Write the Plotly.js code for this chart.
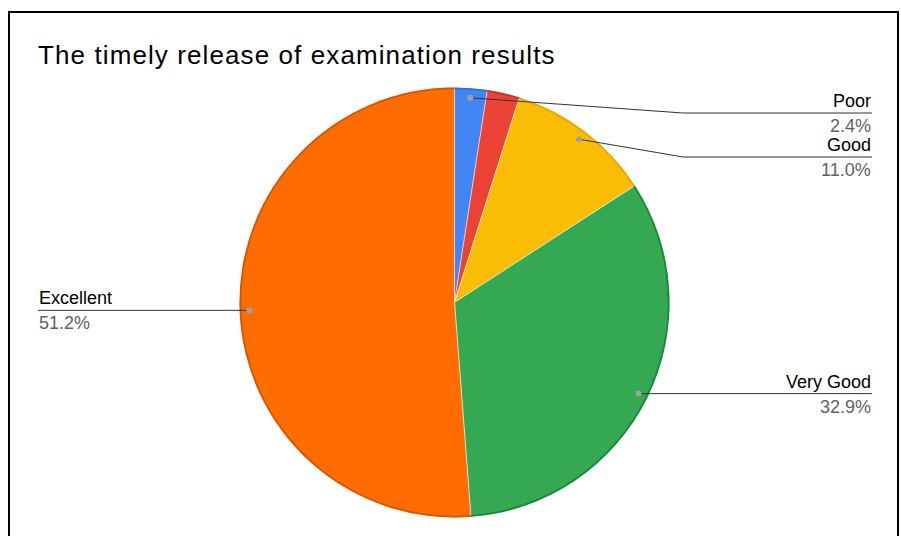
<!DOCTYPE html>
<html>
<head>
<meta charset="utf-8">
<script src="https://cdn.plot.ly/plotly-3.0.1.min.js"></script>
<style>
  html, body { margin: 0; padding: 0; background: #fff; }
  #chart { width: 901px; height: 536px; }
  #chart .gtitle { letter-spacing: 1.1px; }
</style>
</head>
<body>
<div id="chart"></div>
<script>
// ---- data ----
const categories = ['Poor', 'Fair', 'Good', 'Very Good', 'Excellent'];
const values = [2, 2, 9, 27, 42];
const sliceColors = ['#4285F4', '#EA4335', '#FBBC04', '#34A853', '#FF6D01'];
const edgeColors = ['#2f6fd6', '#c8302a', '#e6a800', '#178a36', '#d85400'];
const labeledCategories = ['Poor', 'Good', 'Very Good', 'Excellent'];
const chartTitle = 'The timely release of examination results';

// ---- layout constants (pixels) ----
const W = 901, H = 536;
const CX = 454.5, CY = 302.5, R = 215;
const DOT_FRAC = 0.955;
const RIGHT_X = 872, LEFT_X = 38, BEND_X = 683;
const LINE_Y_OVERRIDE = { 'Poor': 113, 'Good': 157 };
const FONT = 'Liberation Sans, Arial, sans-serif';

const px = x => x / W;
const py = y => 1 - y / H;

const total = values.reduce((a, b) => a + b, 0);
const shapes = [];
const annotations = [];

// frame
shapes.push({
  type: 'rect', xref: 'paper', yref: 'paper',
  x0: px(9), x1: px(898), y0: py(560), y1: py(12),
  line: { color: '#000', width: 2 }, fillcolor: 'rgba(0,0,0,0)', layer: 'above'
});

let cum = 0;
values.forEach((v, i) => {
  const mid = 2 * Math.PI * (cum + v / 2) / total;
  cum += v;
  const name = categories[i];
  if (!labeledCategories.includes(name)) return;
  const dx = CX + R * DOT_FRAC * Math.sin(mid);
  const dy = CY - R * DOT_FRAC * Math.cos(mid);
  const pct = (v / total * 100).toFixed(1) + '%';
  const right = Math.sin(mid) >= 0;
  let lineY = dy;
  let path;
  if (right) {
    if (LINE_Y_OVERRIDE[name] !== undefined) {
      lineY = LINE_Y_OVERRIDE[name];
      path = `M ${px(dx)},${py(dy)} L ${px(BEND_X)},${py(lineY)} L ${px(RIGHT_X)},${py(lineY)}`;
    } else {
      path = `M ${px(dx)},${py(dy)} L ${px(RIGHT_X)},${py(lineY)}`;
    }
  } else {
    path = `M ${px(dx)},${py(dy)} L ${px(LEFT_X)},${py(lineY)}`;
  }
  shapes.push({ type: 'path', xref: 'paper', yref: 'paper', path: path,
    line: { color: '#333', width: 1 }, layer: 'above' });
  shapes.push({ type: 'circle', xref: 'paper', yref: 'paper',
    x0: px(dx - 3), x1: px(dx + 3), y0: py(dy + 3), y1: py(dy - 3),
    fillcolor: '#a0a0a0', line: { width: 0 }, layer: 'above' });
  const tx = right ? RIGHT_X : LEFT_X;
  const anchor = right ? 'right' : 'left';
  annotations.push({
    xref: 'paper', yref: 'paper', x: px(tx), y: py(lineY - 1),
    xanchor: anchor, yanchor: 'bottom', showarrow: false, text: name,
    font: { family: FONT, size: 18, color: '#000' }, borderpad: 0
  });
  annotations.push({
    xref: 'paper', yref: 'paper', x: px(tx), y: py(lineY + 2),
    xanchor: anchor, yanchor: 'top', showarrow: false, text: pct,
    font: { family: FONT, size: 18, color: '#5f5f5f' }, borderpad: 0
  });
});

const domain = { x: [px(CX - R), px(CX + R)], y: [py(CY + R), py(CY - R)] };

const trace = {
  type: 'pie',
  labels: categories,
  values: values,
  sort: false,
  direction: 'clockwise',
  rotation: 0,
  textinfo: 'none',
  hoverinfo: 'label+percent',
  marker: { colors: sliceColors, line: { color: 'rgba(255,255,255,0.8)', width: 0.6 } },
  domain: domain,
  showlegend: false
};

// thin darker rim along the outer edge of each slice
const rim = {
  type: 'pie',
  labels: categories,
  values: values,
  sort: false,
  direction: 'clockwise',
  rotation: 0,
  hole: 1 - 1.8 / R,
  textinfo: 'none',
  hoverinfo: 'skip',
  marker: { colors: edgeColors, line: { width: 0 } },
  domain: domain,
  showlegend: false
};

const layout = {
  width: W, height: H,
  margin: { l: 0, r: 0, t: 0, b: 0 },
  paper_bgcolor: '#fff',
  title: {
    text: chartTitle, x: px(LEFT_X), xanchor: 'left', xref: 'paper',
    y: py(55), yref: 'container', yanchor: 'middle',
    font: { family: FONT, size: 26, color: '#000' }
  },
  showlegend: false,
  shapes: shapes,
  annotations: annotations
};

Plotly.newPlot('chart', [trace, rim], layout, { displayModeBar: false, staticPlot: true });
</script>
</body>
</html>
